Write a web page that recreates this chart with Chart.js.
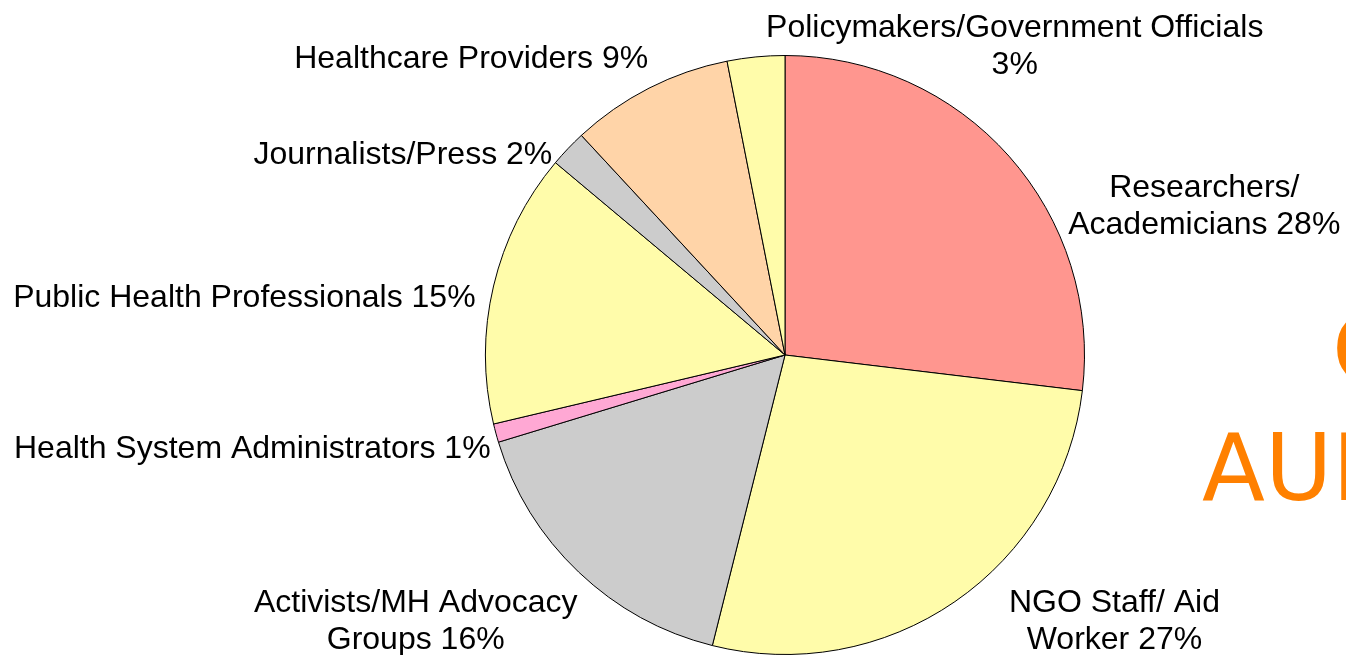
<!DOCTYPE html>
<html>
<head>
<meta charset="utf-8">
<title>Audience</title>
<script src="https://cdn.jsdelivr.net/npm/chart.js@4/dist/chart.umd.min.js"></script>
<style>
  html, body { margin: 0; padding: 0; background: #fff; }
  #wrap { width: 1346px; height: 655px; position: relative; }
</style>
</head>
<body>
<div id="wrap"><canvas id="audiencePie"></canvas></div>
<script>
// Audience groups, clockwise from 12 o'clock
const categories = [
  'Researchers/ Academicians',
  'NGO Staff/ Aid Worker',
  'Activists/MH Advocacy Groups',
  'Health System Administrators',
  'Public Health Professionals',
  'Journalists/Press',
  'Healthcare Providers',
  'Policymakers/Government Officials'
];
const shares = [26.9, 27, 16.4, 1, 14.8, 2, 8.8, 3.1];
// percentages printed on the labels
const shareLabels = ['28%', '27%', '16%', '1%', '15%', '2%', '9%', '3%'];
// how each label text breaks into lines
const labelLines = [
  ['Researchers/', 'Academicians 28%'],
  ['NGO Staff/ Aid', 'Worker 27%'],
  ['Activists/MH Advocacy', 'Groups 16%'],
  ['Health System Administrators 1%'],
  ['Public Health Professionals 15%'],
  ['Journalists/Press 2%'],
  ['Healthcare Providers 9%'],
  ['Policymakers/Government Officials', '3%']
];
const colors = ['#FF968F', '#FFFCAA', '#CCCCCC', '#FFA8D4', '#FFFCAA', '#CCCCCC', '#FFD4A8', '#FFFCAA'];

// label anchor relative to pie centre, in radii (first-line baseline)
const labelSpots = [
  { dx: 1.40, dy: -0.527, align: 'center' },
  { dx: 1.10, dy: 0.857, align: 'center' },
  { dx: -1.233, dy: 0.857, align: 'center' },
  { dx: -0.983, dy: 0.343, align: 'right' },
  { dx: -1.033, dy: -0.16, align: 'right' },
  { dx: -0.777, dy: -0.637, align: 'right' },
  { dx: -0.457, dy: -0.957, align: 'right' },
  { dx: 0.767, dy: -1.063, align: 'center' }
];

const outsideLabels = {
  id: 'outsideLabels',
  afterDatasetsDraw(chart) {
    const ctx = chart.ctx;
    const arc = chart.getDatasetMeta(0).data[0];
    const cx = arc.x, cy = arc.y, r = arc.outerRadius;
    ctx.save();
    // slide title peeking in at the right edge
    ctx.fillStyle = '#FF8000';
    ctx.font = '92px "DejaVu Sans"';
    ctx.textAlign = 'left';
    ctx.textBaseline = 'alphabetic';
    ctx.fillText('C', cx + 547, cy + 27);
    ctx.fillText('AUDIENCE', cx + 417, cy + 145);

    ctx.fillStyle = '#000';
    ctx.font = '32px "Liberation Sans", Arial, sans-serif';
    labelLines.forEach((lines, i) => {
      const s = labelSpots[i];
      ctx.textAlign = s.align;
      lines.forEach((txt, j) => {
        ctx.fillText(txt, cx + s.dx * r, cy + s.dy * r + j * 37);
      });
    });
    ctx.restore();
  }
};

new Chart(document.getElementById('audiencePie'), {
  type: 'pie',
  data: {
    labels: categories,
    datasets: [{
      data: shares,
      backgroundColor: colors,
      borderColor: '#000',
      borderWidth: 1
    }]
  },
  options: {
    responsive: true,
    maintainAspectRatio: false,
    animation: false,
    layout: { padding: { left: 485, right: 261, top: 55, bottom: 0 } },
    plugins: {
      legend: { display: false },
      tooltip: { enabled: false }
    }
  },
  plugins: [outsideLabels]
});
</script>
</body>
</html>
